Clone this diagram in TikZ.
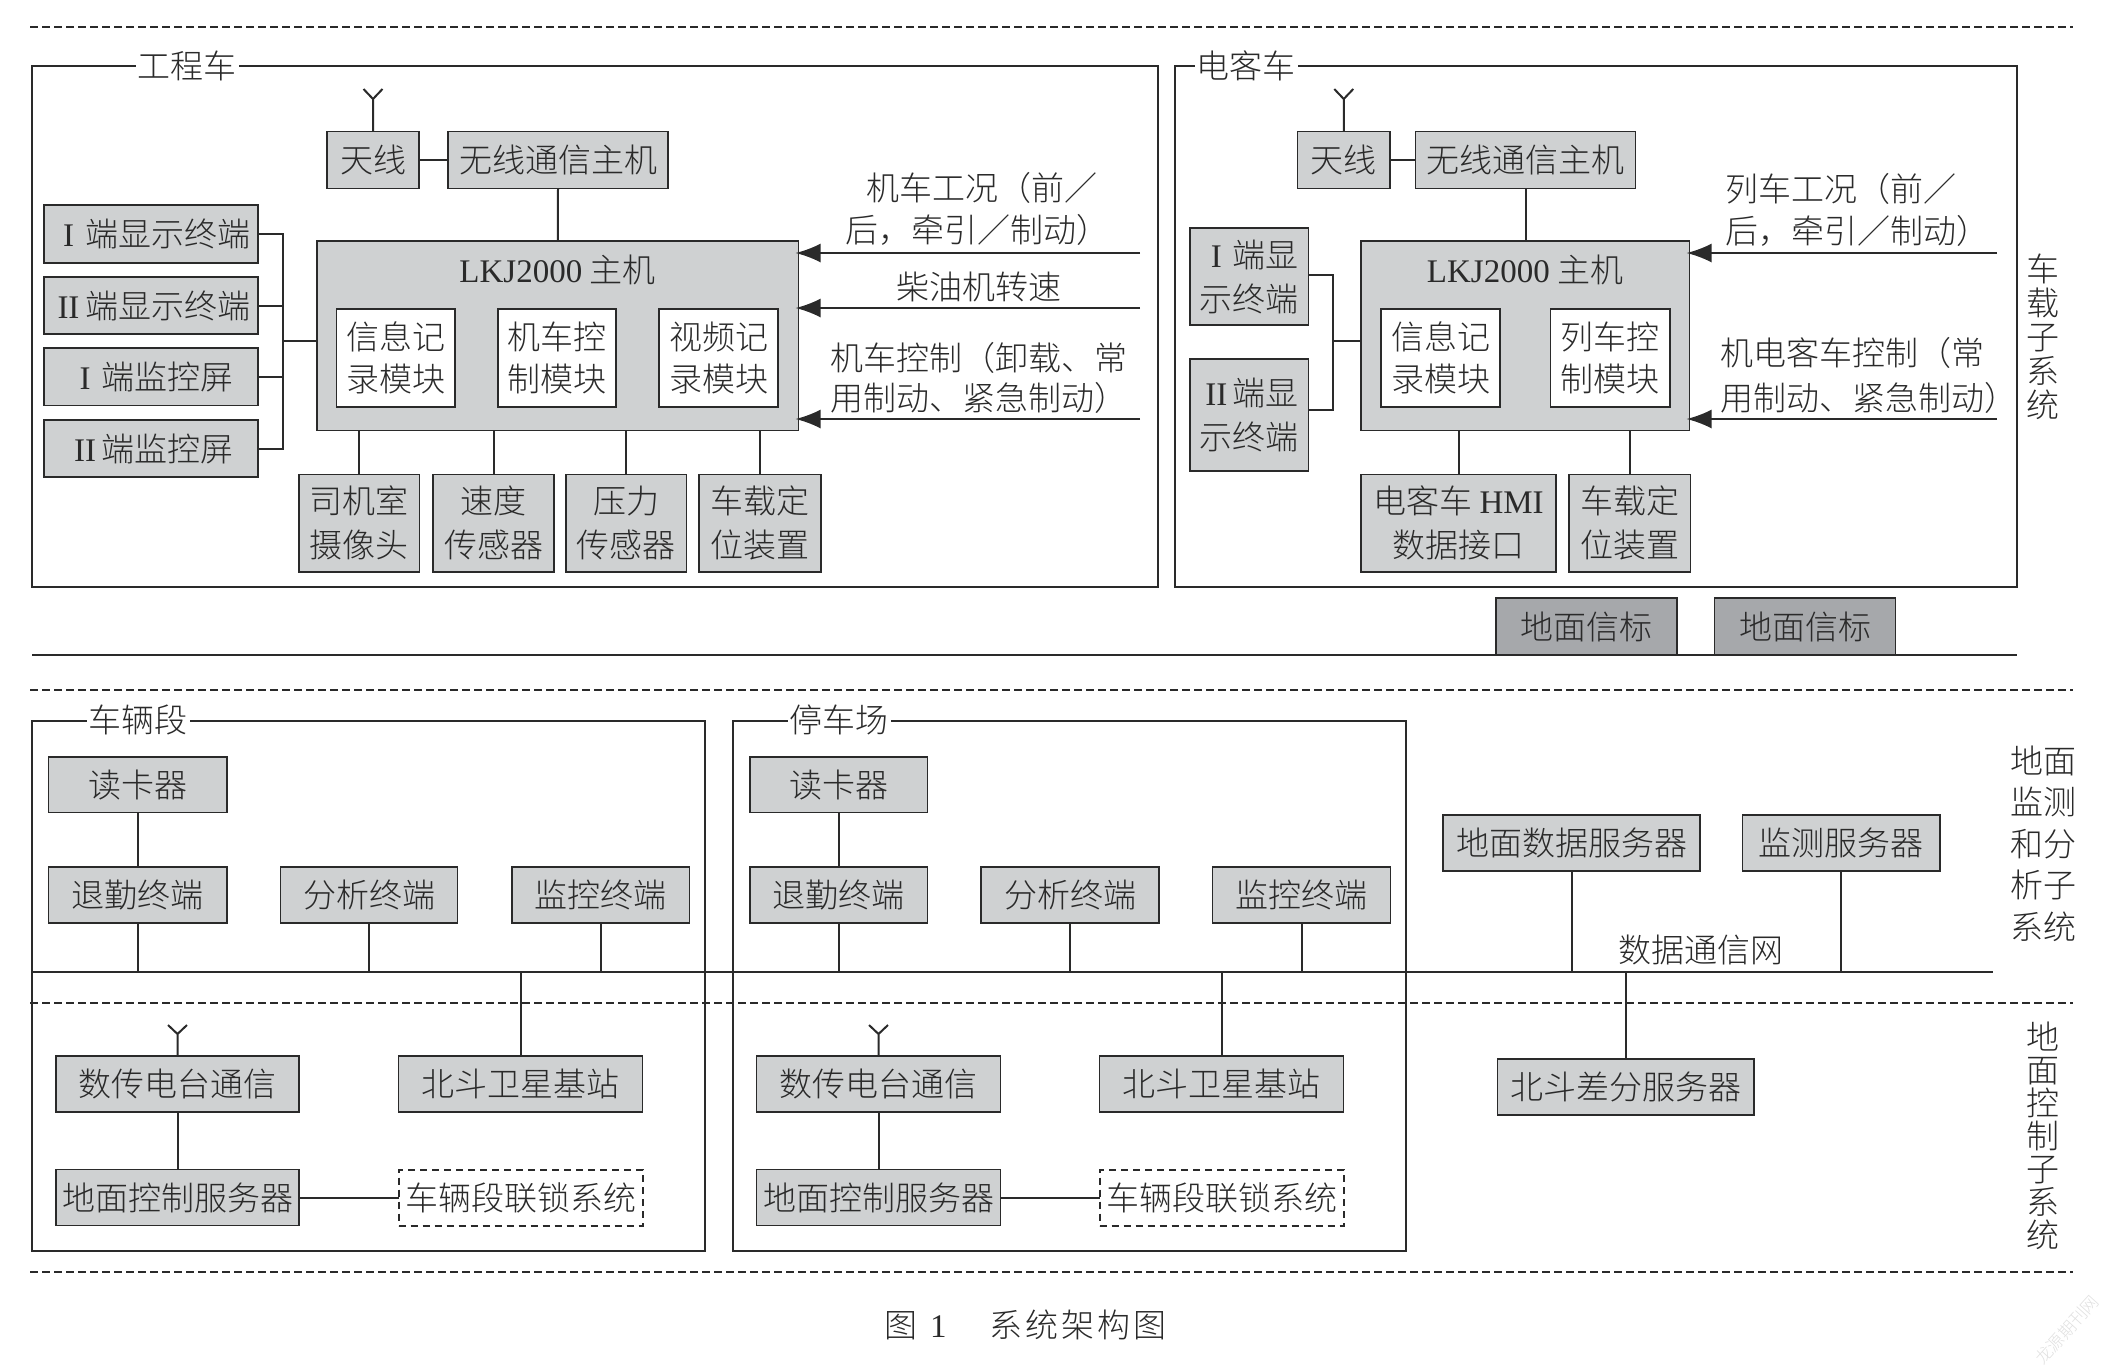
\documentclass[tikz,border=0pt]{standalone}
\usepackage{fontspec}
\setmainfont{Noto Sans CJK SC Light}
\newfontfamily\latfont{Liberation Serif}
\newcommand\lat[1]{{\latfont #1}}
\newcommand\rom[1]{\makebox[33pt]{\latfont #1}}
\usetikzlibrary{arrows.meta}
\definecolor{ink}{HTML}{2A2A2A}
\definecolor{boxgray}{HTML}{CFD1D2}
\definecolor{darkgray}{HTML}{A6A8AB}
\tikzset{
  wire/.style={draw=ink,line width=2pt},
  heavy/.style={draw=ink,line width=2.6pt},
  sep/.style={draw=ink,line width=1.8pt,dash pattern=on 7.5pt off 4.5pt},
  arr/.style={draw=ink,line width=2pt,-{Latex[length=25pt,width=19pt]},shorten >=-3pt},
  base/.style={inner sep=0pt,outer sep=0pt,align=center,text=ink,font=\fontsize{33}{42}\selectfont},
  gbox/.style={base,draw=ink,line width=1.9pt,fill=boxgray},
  wbox/.style={base,draw=ink,line width=1.9pt,fill=white},
  dbox/.style={base,draw=ink,line width=1.9pt,fill=darkgray},
  nbox/.style={base,draw=ink,line width=2pt,fill=white,dash pattern=on 7pt off 5pt},
  frame/.style={base,draw=ink,line width=2pt},
  title/.style={base,fill=white,inner xsep=2pt},
  lab/.style={base,anchor=west},
  wide/.style={font=\fontsize{33}{44}\selectfont}
}
\newcommand\bx[7][]{%
  \pgfmathsetmacro\cxx{(#3+#5)/2}\pgfmathsetmacro\cyy{(#4+#6)/2}%
  \pgfmathsetmacro\www{#5-#3}\pgfmathsetmacro\hhh{#6-#4}%
  \node[#1,minimum width=\www pt,minimum height=\hhh pt] (#2) at (\cxx,\cyy) {#7};}
\begin{document}
\begin{tikzpicture}[x=1pt,y=-1pt]
\useasboundingbox (0,0) rectangle (2109,1366);
% separators
\coordinate (sl1) at (30,27);    \coordinate (sr1) at (2073,27);
\coordinate (sl2) at (30,690);   \coordinate (sr2) at (2073,690);
\coordinate (sl3) at (30,1003);  \coordinate (sr3) at (2073,1003);
\coordinate (sl4) at (30,1272);\coordinate (sr4) at (2073,1272);
\draw[sep] (sl1) -- (sr1);
\draw[sep] (sl2) -- (sr2);
\draw[sep] (sl3) -- (sr3);
\draw[sep] (sl4) -- (sr4);
% frames
\bx[frame]{fgc}{32}{65.5}{1158}{587}{}
\bx[frame]{fdk}{1174.5}{65.5}{2017}{587}{}
\bx[frame]{fcl}{32}{721}{704.5}{1251}{}
\bx[frame]{fpk}{733}{721}{1405.5}{1251}{}
\node[title] (tgc) at (187,66) {工程车};
\node[title] (tdk) at (1246,66) {电客车};
\node[title] (tcl) at (138,720) {车辆段};
\node[title] (tpk) at (839,720) {停车场};
% ground line and bus
\coordinate (gl) at (32,655); \coordinate (gr) at (2017,655);
\draw[heavy] (gl) -- (gr);
\coordinate (busl) at (32,972); \coordinate (busr) at (1993,972);
\draw[wire] (busl) -- (busr);
% ---------- engineering vehicle
\bx[gbox]{ga}{327}{131.5}{419}{188.5}{天线}
\bx[gbox]{gw}{448}{131.5}{668}{188.5}{无线通信主机}
\bx[gbox]{gl0}{317}{241}{798.5}{430.5}{}
\node[base] (glt) at (557.5,270) {\lat{LKJ2000} 主机};
\bx[wbox]{gm1}{336.5}{309}{455}{407}{信息记\\录模块}
\bx[wbox]{gm2}{498}{309}{616}{407}{机车控\\制模块}
\bx[wbox]{gm3}{659}{309}{778}{407}{视频记\\录模块}
\bx[gbox]{gt1}{44}{205}{258}{263}{\rom{I}端显示终端}
\bx[gbox]{gt2}{44}{277}{258}{334}{\rom{II}端显示终端}
\bx[gbox]{gt3}{44}{348}{258}{405.5}{\rom{I}端监控屏}
\bx[gbox]{gt4}{44}{420}{258}{477}{\rom{II}端监控屏}
\bx[gbox,wide]{gs1}{299}{474.5}{419.5}{572}{司机室\\摄像头}
\bx[gbox,wide]{gs2}{433}{474.5}{554}{572}{速度\\传感器}
\bx[gbox,wide]{gs3}{566}{474.5}{686.5}{572}{压力\\传感器}
\bx[gbox,wide]{gs4}{699}{474.5}{821}{572}{车载定\\位装置}
\coordinate (gbr) at (283,341);
\draw[wire] (ga.east) -- (gw.west);
\draw[wire] (gw.south) -- (gl0.north);
\draw[wire] (gt1.east) -- (gt1.east -| gbr) -- (gt4.east -| gbr) -- (gt4.east);
\draw[wire] (gt2.east) -- (gt2.east -| gbr);
\draw[wire] (gt3.east) -- (gt3.east -| gbr);
\draw[wire] (gbr) -- (gbr -| gl0.west);
\foreach \s in {gs1,gs2,gs3,gs4} \draw[wire] (\s.north) -- (\s.north |- gl0.south);
\coordinate (ga1) at (1140,253); \coordinate (ga2) at (1140,308); \coordinate (ga3) at (1140,419);
\draw[arr] (ga1) -- (ga1 -| gl0.east);
\draw[arr] (ga2) -- (ga2 -| gl0.east);
\draw[arr] (ga3) -- (ga3 -| gl0.east);
\node[lab] (gx1) at (866,188) {机车工况（前／};
\node[lab] (gx2) at (845,230) {后，牵引／制动）};
\node[base] (gx3) at (979,287) {柴油机转速};
\node[lab] (gx4) at (830,358) {机车控制（卸载、常};
\node[lab] (gx5) at (830,398) {用制动、紧急制动）};
% ---------- EMU
\bx[gbox]{da}{1297.5}{131.5}{1390}{188.5}{天线}
\bx[gbox]{dw}{1415.5}{131.5}{1635.5}{188.5}{无线通信主机}
\bx[gbox]{dl0}{1361}{241}{1689.5}{430.5}{}
\node[base] (dlt) at (1525,270) {\lat{LKJ2000} 主机};
\bx[wbox]{dm1}{1381}{309}{1500}{407}{信息记\\录模块}
\bx[wbox]{dm2}{1550.5}{309}{1670}{407}{列车控\\制模块}
\bx[gbox,wide]{dt1}{1190}{228}{1308.5}{325}{\rom{I}端显\\示终端}
\bx[gbox,wide]{dt2}{1190}{359}{1308.5}{471}{\rom{II}端显\\示终端}
\bx[gbox,wide]{ds1}{1361}{474.5}{1556}{572}{电客车 \lat{HMI}\\数据接口}
\bx[gbox,wide]{ds2}{1569}{474.5}{1690.5}{572}{车载定\\位装置}
\coordinate (dbr) at (1333,341);
\draw[wire] (da.east) -- (dw.west);
\draw[wire] (dw.south) -- (dl0.north -| dw.south);
\draw[wire] ([yshift=2pt]dt1.east) -- ([yshift=2pt]dt1.east -| dbr) -- ([yshift=5pt]dt2.east -| dbr) -- ([yshift=5pt]dt2.east);
\draw[wire] (dbr) -- (dbr -| dl0.west);
\draw[wire] (ds1.north) -- (ds1.north |- dl0.south);
\draw[wire] (ds2.north) -- (ds2.north |- dl0.south);
\coordinate (da1) at (1997,253); \coordinate (da3) at (1997,419);
\draw[arr] (da1) -- (da1 -| dl0.east);
\draw[arr] (da3) -- (da3 -| dl0.east);
\node[lab] (dx1) at (1725,189) {列车工况（前／};
\node[lab] (dx2) at (1725,231) {后，牵引／制动）};
\node[lab] (dx4) at (1720,353) {机电客车控制（常};
\node[lab] (dx5) at (1720,398) {用制动、紧急制动）};
\node[base,font=\fontsize{33}{34}\selectfont] (sys1) at (2043,337) {车\\载\\子\\系\\统};
\bx[dbox]{gb1}{1496}{598}{1677}{655}{地面信标}
\bx[dbox]{gb2}{1714.5}{598}{1895.5}{655}{地面信标}
% ---------- depot
\bx[gbox]{c1}{48.5}{757}{227}{812.5}{读卡器}
\bx[gbox]{c2}{48.5}{867}{227}{923}{退勤终端}
\bx[gbox]{c3}{280.5}{867}{457.5}{923}{分析终端}
\bx[gbox]{c4}{512}{867}{689.5}{923}{监控终端}
\bx[gbox]{c5}{56}{1056}{299}{1112}{数传电台通信}
\bx[gbox]{c6}{398.5}{1056}{642.5}{1112}{北斗卫星基站}
\bx[gbox]{c7}{56}{1169.5}{299}{1225.5}{地面控制服务器}
\bx[nbox]{c8}{398.5}{1169.5}{642.5}{1225.5}{车辆段联锁系统}
\draw[wire] (c1.south) -- (c2.north);
\foreach \s in {c2,c3,c4} \draw[wire] (\s.south) -- (\s.south |- busl);
\draw[wire] (c6.north) -- (c6.north |- busl);
\draw[wire] (c5.south) -- (c7.north);
\draw[wire] (c7.east) -- (c8.west);
\coordinate (ct) at (177.5,1034);
\draw[wire] (c5.north) -- (ct) -- ++(-9.5,-9) (ct) -- ++(9.5,-9);
% ---------- parking
\bx[gbox]{p1}{750}{757}{927.5}{812.5}{读卡器}
\bx[gbox]{p2}{750}{867}{927.5}{923}{退勤终端}
\bx[gbox]{p3}{981}{867}{1159}{923}{分析终端}
\bx[gbox]{p4}{1212.5}{867}{1390.5}{923}{监控终端}
\bx[gbox]{p5}{756.5}{1056}{1000.5}{1112}{数传电台通信}
\bx[gbox]{p6}{1099.5}{1056}{1343.5}{1112}{北斗卫星基站}
\bx[gbox]{p7}{756.5}{1169.5}{1000.5}{1225.5}{地面控制服务器}
\bx[nbox]{p8}{1099.5}{1169.5}{1343.5}{1225.5}{车辆段联锁系统}
\draw[wire] (p1.south) -- (p2.north);
\foreach \s in {p2,p3,p4} \draw[wire] (\s.south) -- (\s.south |- busl);
\draw[wire] (p6.north) -- (p6.north |- busl);
\draw[wire] (p5.south) -- (p7.north);
\draw[wire] (p7.east) -- (p8.west);
\coordinate (pt) at (878.5,1034);
\draw[wire] (p5.north) -- (pt) -- ++(-9.5,-9) (pt) -- ++(9.5,-9);
% antennas of the vehicles
\coordinate (gt) at (373,99);
\draw[wire] (ga.north) -- (gt) -- ++(-9.5,-10) (gt) -- ++(9.5,-10);
\coordinate (dt) at (1343.75,99);
\draw[wire] (da.north) -- (dt) -- ++(-9.5,-10) (dt) -- ++(9.5,-10);
% ---------- right
\bx[gbox]{r1}{1443}{815}{1700}{871}{地面数据服务器}
\bx[gbox]{r2}{1742.5}{815}{1940}{871}{监测服务器}
\bx[gbox]{r3}{1497.5}{1059}{1754}{1115}{北斗差分服务器}
\draw[wire] (r1.south) -- (r1.south |- busl);
\draw[wire] (r2.south) -- (r2.south |- busl);
\draw[wire] (r3.north) -- (r3.north |- busl);
\node[base] (netl) at (1700.5,950) {数据通信网};
\node[base,font=\fontsize{33}{41.5}\selectfont] (sys2) at (2043,843.5) {地面\\监测\\和分\\析子\\系统};
\node[base,font=\fontsize{33}{33}\selectfont] (sys3) at (2043,1136) {地\\面\\控\\制\\子\\系\\统};
% caption
\node[base,anchor=west,font=\fontsize{33}{36}\selectfont] (cap) at (884,1325) {图\hspace{13pt}\lat{1}\hspace{43pt}系\hspace{3pt}统\hspace{3pt}架\hspace{3pt}构\hspace{3pt}图};
\node[base,rotate=48,text=black!12,font=\fontsize{17}{18}\selectfont] (wm) at (2067,1330) {龙源期刊网};
\end{tikzpicture}
\end{document}
